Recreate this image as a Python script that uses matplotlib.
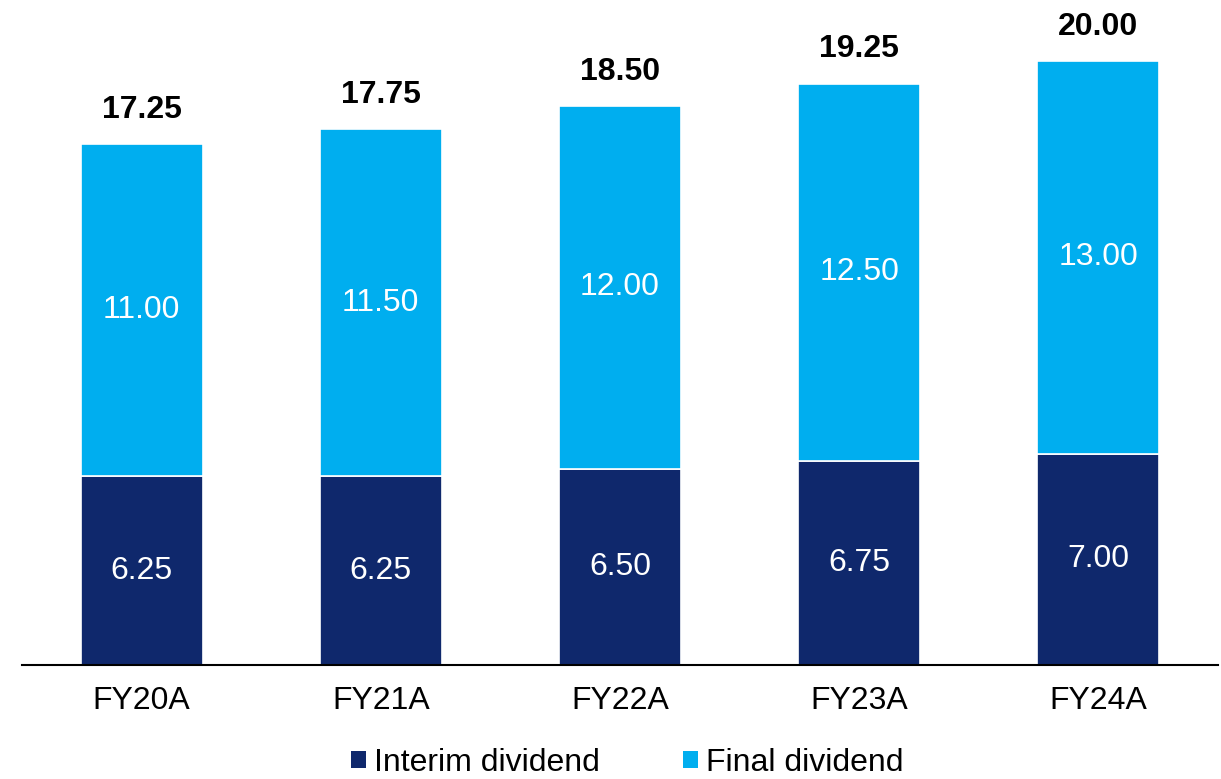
import matplotlib
matplotlib.use("Agg")
import matplotlib.pyplot as plt
from matplotlib.patches import Patch

plt.rcParams['font.family'] = ['Liberation Sans', 'DejaVu Sans']

categories = ["FY20A", "FY21A", "FY22A", "FY23A", "FY24A"]
interim = [6.25, 6.25, 6.50, 6.75, 7.00]
final = [11.00, 11.50, 12.00, 12.50, 13.00]
totals = [17.25, 17.75, 18.50, 19.25, 20.00]

navy = "#0F286C"
light = "#00AEEF"
fs = 23

fig = plt.figure(figsize=(12.21, 7.79), dpi=100)
ax = fig.add_axes([22/1221, 1 - 665/779, (1218-22)/1221, 665/779])

x = list(range(len(categories)))
w = 0.51
ax.bar(x, interim, width=w, color=navy, edgecolor="white", linewidth=1.2)
ax.bar(x, final, width=w, bottom=interim, color=light, edgecolor="white", linewidth=1.2)

for i in x:
    ax.text(i, interim[i] / 2, f"{interim[i]:.2f}", ha="center", va="center",
            color="white", fontsize=fs)
    ax.text(i, interim[i] + final[i] / 2, f"{final[i]:.2f}", ha="center", va="center",
            color="white", fontsize=fs)
    ax.annotate(f"{totals[i]:.2f}", (i, totals[i]), xytext=(0, 14),
                textcoords="offset points", ha="center", va="bottom",
                fontsize=fs, fontweight="bold", color="black")

ax.set_xlim(-0.5, 4.5)
ax.set_ylim(0, 665/30.2)
ax.set_xticks(x)
ax.set_xticklabels(categories, fontsize=fs)
ax.tick_params(axis="x", length=0, pad=15)
ax.set_yticks([])
for s in ["top", "right", "left"]:
    ax.spines[s].set_visible(False)
ax.spines["bottom"].set_linewidth(1.5)
ax.spines["bottom"].set_color("black")

handles = [Patch(facecolor=navy, label="Interim dividend"),
           Patch(facecolor=light, label="Final dividend")]
fig.legend(handles=handles, loc="center", bbox_to_anchor=(0.514, 1 - 763/779),
           ncol=2, frameon=False, fontsize=fs, handlelength=0.47, handleheight=0.47,
           handletextpad=0.25, columnspacing=2.6)

fig.savefig("out.png", dpi=100)
